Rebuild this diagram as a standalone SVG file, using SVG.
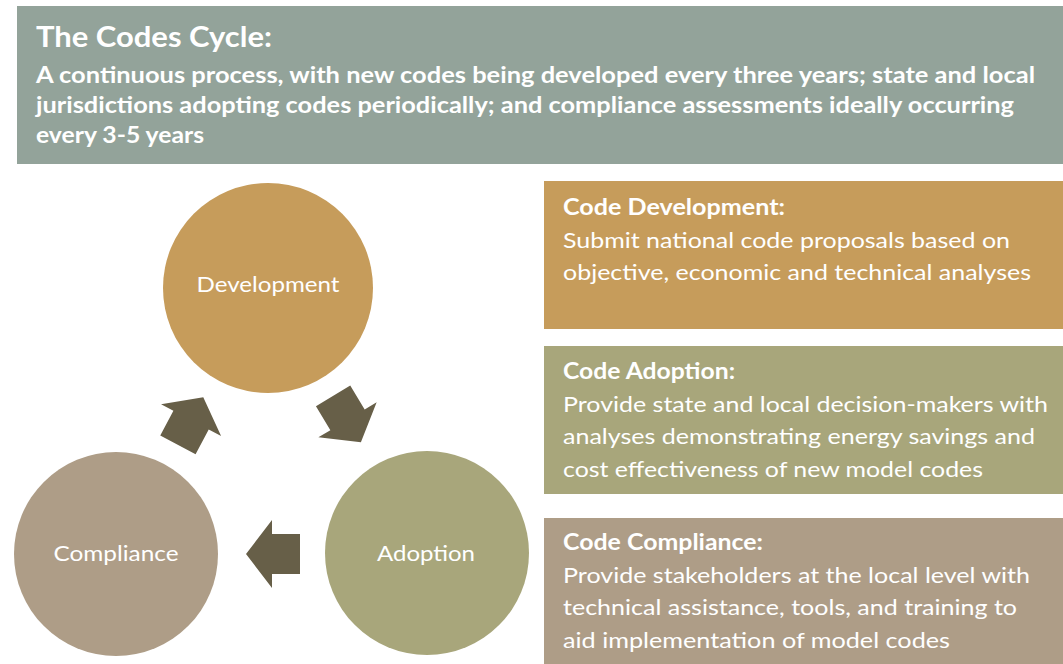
<svg xmlns="http://www.w3.org/2000/svg" width="1063" height="664" viewBox="0 0 1063 664">
<style>
.t{font-family:Lato,"Open Sans","Liberation Sans",sans-serif;fill:#ffffff}
.b{font-weight:bold}
.hb{font-size:22px}
.bx{font-size:22px}
.lbl{font-size:21px;text-anchor:middle}
.arr{fill:#675F48}
</style>
<defs>
<path id="arrowShape" d="M27,0 L1,-34 L1,-20 L-27,-20 L-27,20 L1,20 L1,34 Z"/>
</defs>
<rect width="1063" height="664" fill="#ffffff"/>
<g id="header">
<rect x="17" y="6" width="1046" height="158" fill="#93A39A"/>
<text class="t b" x="36" y="47" font-size="28" textLength="236" lengthAdjust="spacingAndGlyphs">The Codes Cycle:</text>
<text class="t b hb" x="36" y="83" textLength="999" lengthAdjust="spacingAndGlyphs">A continuous process, with new codes being developed every three years; state and local</text>
<text class="t b hb" x="36" y="113" textLength="978" lengthAdjust="spacingAndGlyphs">jurisdictions adopting codes periodically; and compliance assessments ideally occurring</text>
<text class="t b hb" x="36" y="143" textLength="168" lengthAdjust="spacingAndGlyphs">every 3-5 years</text>
</g>
<g id="development">
<circle cx="268" cy="288" r="105" fill="#C69C5B"/>
<text class="t lbl" x="268" y="292" textLength="143" lengthAdjust="spacingAndGlyphs">Development</text>
</g>
<g id="adoption">
<circle cx="427" cy="553" r="102" fill="#A8A67B"/>
<text class="t lbl" x="426" y="561" textLength="98" lengthAdjust="spacingAndGlyphs">Adoption</text>
</g>
<g id="compliance">
<circle cx="116" cy="554" r="102" fill="#AE9D87"/>
<text class="t lbl" x="116" y="561" textLength="125" lengthAdjust="spacingAndGlyphs">Compliance</text>
</g>
<g id="connectors">
<use href="#arrowShape" class="arr" transform="translate(347,419) rotate(59)"/>
<use href="#arrowShape" class="arr" transform="translate(273,554) rotate(180)"/>
<use href="#arrowShape" class="arr" transform="translate(190.6,421) rotate(-62)"/>
</g>
<g id="code-development">
<rect x="544" y="181" width="519" height="148" fill="#C69C5B"/>
<text class="t b bx" x="563" y="215" textLength="222" lengthAdjust="spacingAndGlyphs">Code Development:</text>
<text class="t bx" x="563" y="248" textLength="447" lengthAdjust="spacingAndGlyphs">Submit national code proposals based on</text>
<text class="t bx" x="563" y="280" textLength="468" lengthAdjust="spacingAndGlyphs">objective, economic and technical analyses</text>
</g>
<g id="code-adoption">
<rect x="544" y="346" width="519" height="148" fill="#A8A67B"/>
<text class="t b bx" x="563" y="379" textLength="172" lengthAdjust="spacingAndGlyphs">Code Adoption:</text>
<text class="t bx" x="563" y="412" textLength="485" lengthAdjust="spacingAndGlyphs">Provide state and local decision-makers with</text>
<text class="t bx" x="563" y="444" textLength="472" lengthAdjust="spacingAndGlyphs">analyses demonstrating energy savings and</text>
<text class="t bx" x="563" y="477" textLength="420" lengthAdjust="spacingAndGlyphs">cost effectiveness of new model codes</text>
</g>
<g id="code-compliance">
<rect x="544" y="518" width="519" height="146" fill="#AE9D87"/>
<text class="t b bx" x="563" y="550" textLength="200" lengthAdjust="spacingAndGlyphs">Code Compliance:</text>
<text class="t bx" x="563" y="583" textLength="467" lengthAdjust="spacingAndGlyphs">Provide stakeholders at the local level with</text>
<text class="t bx" x="563" y="615" textLength="454" lengthAdjust="spacingAndGlyphs">technical assistance, tools, and training to</text>
<text class="t bx" x="563" y="648" textLength="387" lengthAdjust="spacingAndGlyphs">aid implementation of model codes</text>
</g>
</svg>
